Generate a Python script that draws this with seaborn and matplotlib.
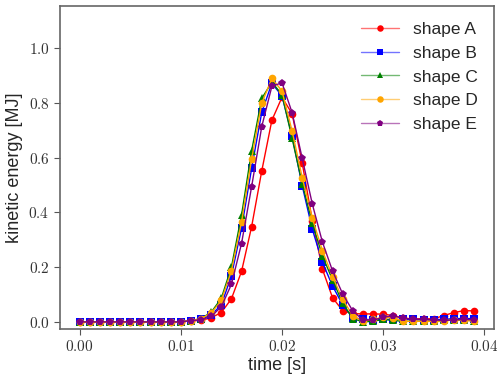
import numpy as np
import pandas as pd
import matplotlib
matplotlib.use("Agg")
import matplotlib.pyplot as plt
import matplotlib.ticker as mticker
import matplotlib.colors as mcolors
import seaborn as sns

time = [i * 0.001 for i in range(40)]
zeros12 = [0.0] * 11 + [0.004]

shape_A = zeros12[:-1] + [0.004, 0.005, 0.015, 0.034, 0.084, 0.184, 0.348, 0.551, 0.736,
           0.820, 0.760, 0.580, 0.370, 0.192, 0.088, 0.041, 0.030, 0.029, 0.029,
           0.028, 0.023, 0.013, 0.011, 0.011, 0.011, 0.023, 0.034, 0.041, 0.040]
shape_B = zeros12 + [0.010, 0.025, 0.062, 0.168, 0.342, 0.561, 0.765, 0.871,
           0.825, 0.679, 0.497, 0.338, 0.217, 0.131, 0.062, 0.015, 0.010, 0.007,
           0.009, 0.009, 0.009, 0.009, 0.008, 0.008, 0.009, 0.012, 0.012, 0.012]
shape_C = zeros12 + [0.012, 0.035, 0.086, 0.200, 0.390, 0.625, 0.816, 0.875,
           0.830, 0.670, 0.505, 0.360, 0.241, 0.153, 0.068, 0.012, 0.000, 0.002,
           0.009, 0.005, 0.002, 0.002, 0.002, 0.002, 0.005, 0.007, 0.006, 0.004]
shape_D = zeros12 + [0.012, 0.032, 0.078, 0.186, 0.364, 0.595, 0.798, 0.889,
           0.843, 0.697, 0.527, 0.378, 0.260, 0.165, 0.083, 0.022, 0.002, 0.009,
           0.016, 0.015, 0.002, 0.002, 0.002, 0.002, 0.004, 0.007, 0.007, 0.002]
shape_E = zeros12 + [0.008, 0.020, 0.055, 0.137, 0.286, 0.494, 0.713, 0.860,
           0.873, 0.764, 0.597, 0.430, 0.291, 0.186, 0.102, 0.040, 0.007, 0.006,
           0.017, 0.022, 0.013, 0.009, 0.009, 0.007, 0.005, 0.007, 0.009, 0.007]

labels = ["shape A", "shape B", "shape C", "shape D", "shape E"]
series = [shape_A, shape_B, shape_C, shape_D, shape_E]
colors = ["red", "blue", "green", "orange", "purple"]
markers = ["o", "s", "^", "o", "p"]

sns.set_style("ticks")
plt.rcParams["font.family"] = ["Liberation Sans", "DejaVu Sans"]
plt.rcParams["mathtext.fontset"] = "cm"

fig = plt.figure(figsize=(4.97, 3.79), dpi=100)
ax = fig.add_axes([0.1207, 0.132, 0.873, 0.852])

for lab, vals, c, m in zip(labels, series, colors, markers):
    df = pd.DataFrame({"time": time, "ke": vals})
    sns.lineplot(data=df, x="time", y="ke", ax=ax, color=c, marker=m,
                 markersize=5.5, linewidth=1, markeredgewidth=0, label=lab)

ax.set_xlim(-0.00195, 0.04095)
ax.set_ylim(-0.026, 1.153)
ax.set_xticks([0.0, 0.01, 0.02, 0.03, 0.04])
ax.set_yticks([0.0, 0.2, 0.4, 0.6, 0.8, 1.0])
ax.xaxis.set_major_formatter(mticker.FuncFormatter(lambda v, p: r"$%.2f$" % v))
ax.yaxis.set_major_formatter(mticker.FuncFormatter(lambda v, p: r"$%.1f$" % v))
ax.tick_params(labelsize=11, color="#555555", length=4, labelcolor="#333333")
for s in ax.spines.values():
    s.set_color("#666666")
    s.set_linewidth(1.2)
ax.set_xlabel("time [s]", fontsize=13, labelpad=2)
ax.set_ylabel("kinetic energy [MJ]", fontsize=13, labelpad=4)

leg = ax.legend(loc="upper right", frameon=False, fontsize=12.5, markerscale=0.85,
                handlelength=2.2, labelspacing=0.5)
for h, c in zip(leg.get_lines(), colors):
    h.set_color(mcolors.to_rgba(c, 0.55))
    h.set_markerfacecolor(c)
    h.set_markeredgecolor(c)

fig.savefig("out.png", dpi=100)
